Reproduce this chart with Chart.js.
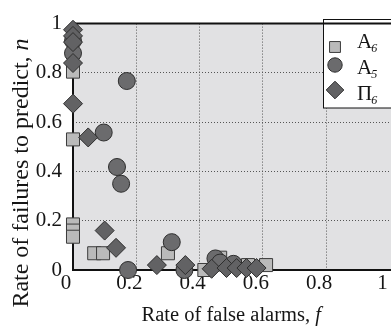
<!DOCTYPE html>
<html><head><meta charset="utf-8">
<script src="https://cdn.jsdelivr.net/npm/chart.js@4.4.1/dist/chart.umd.min.js"></script>
<style>
html,body{margin:0;padding:0;background:#fff;overflow:hidden;width:391px;height:326px}
#wrap{position:relative;width:400px;height:326px}
</style></head>
<body><div id="wrap"><canvas id="c" width="400" height="326"></canvas></div>
<script>
// ---- data ----
const xTickValues = [0, 0.2, 0.4, 0.6, 0.8, 1];
const yTickValues = [0, 0.2, 0.4, 0.6, 0.8, 1];
const xTickLabels = ['0', '0.2', '0.4', '0.6', '0.8', '1'];
const yTickLabels = ['0', '0.2', '0.4', '0.6', '0.8', '1'];
const xTitle = ['Rate of false alarms, ', 'f'];
const yTitle = ['Rate of failures to predict, ', 'n'];
const seriesNames = ['A', 'A', 'Π'];
const seriesSubs = ['6', '5', '6'];

const a6X = [0, 0, 0, 0, 0, 0.067, 0.095, 0.30, 0.415, 0.465, 0.553, 0.61];
const a6Y = [0.805, 0.53, 0.185, 0.16, 0.135, 0.068, 0.068, 0.068, 0.0, 0.05, 0.02, 0.02];

const a5X = [0, 0, 0.17, 0.097, 0.139, 0.152, 0.174, 0.312, 0.352, 0.45, 0.465, 0.507];
const a5Y = [0.93, 0.88, 0.767, 0.558, 0.418, 0.35, 0.0, 0.113, 0.0, 0.047, 0.03, 0.025];

const p6X = [0, 0, 0, 0, 0, 0.048, 0.10, 0.136, 0.265, 0.355, 0.438, 0.485, 0.517, 0.548, 0.58];
const p6Y = [0.975, 0.95, 0.925, 0.84, 0.675, 0.538, 0.16, 0.09, 0.02, 0.02, 0.005, 0.008, 0.008, 0.008, 0.008];

// ---- chart ----
Chart.defaults.font.family = "'Liberation Serif', 'Times New Roman', serif";
Chart.defaults.color = '#151515';

const pts = (xs, ys) => xs.map((x, i) => ({x: x, y: ys[i]}));

const framePlugin = {
  id: 'frame',
  beforeDraw(chart) {
    const a = chart.chartArea, ctx = chart.ctx;
    ctx.save();
    ctx.fillStyle = '#e1e1e3';
    ctx.fillRect(a.left, a.top, a.right - a.left + 10, a.bottom - a.top);
    ctx.restore();
  },
  beforeDatasetsDraw(chart) {
    const a = chart.chartArea, ctx = chart.ctx;
    ctx.save();
    ctx.strokeStyle = '#111';
    ctx.lineWidth = 2;
    ctx.beginPath();
    ctx.moveTo(a.right + 10, a.top);
    ctx.lineTo(a.left, a.top);
    ctx.lineTo(a.left, a.bottom);
    ctx.lineTo(a.right + 10, a.bottom);
    ctx.stroke();
    ctx.restore();
  },
  afterDraw(chart) {
    const a = chart.chartArea, ctx = chart.ctx;
    ctx.save();
    ctx.fillStyle = '#151515';
    // x title
    ctx.textBaseline = 'alphabetic';
    ctx.font = "20.5px 'Liberation Serif'";
    const w1 = ctx.measureText(xTitle[0]).width;
    ctx.font = "italic 20.5px 'Liberation Serif'";
    const w2 = ctx.measureText(xTitle[1]).width;
    let xs = (a.left + a.right) / 2 - (w1 + w2) / 2;
    ctx.font = "20.5px 'Liberation Serif'";
    ctx.fillText(xTitle[0], xs, 321);
    ctx.font = "italic 20.5px 'Liberation Serif'";
    ctx.fillText(xTitle[1], xs + w1, 321);
    // y title
    ctx.save();
    ctx.translate(28, 173);
    ctx.rotate(-Math.PI / 2);
    ctx.font = "24px 'Liberation Serif'";
    const v1 = ctx.measureText(yTitle[0]).width;
    ctx.font = "italic 24px 'Liberation Serif'";
    const v2 = ctx.measureText(yTitle[1]).width;
    const ys = -(v1 + v2) / 2;
    ctx.font = "24px 'Liberation Serif'";
    ctx.fillText(yTitle[0], ys, 0);
    ctx.font = "italic 24px 'Liberation Serif'";
    ctx.fillText(yTitle[1], ys + v1, 0);
    ctx.restore();

    // legend
    const lx = 323.5, ly = 19.5, lw = 90, lh = 88.5;
    ctx.fillStyle = '#fff';
    ctx.fillRect(lx, ly, lw, lh);
    ctx.strokeStyle = '#111';
    ctx.lineWidth = 1;
    ctx.strokeRect(lx, ly, lw, lh);
    ctx.lineWidth = 2;
    ctx.beginPath(); ctx.moveTo(lx, a.top); ctx.lineTo(lx + lw, a.top); ctx.stroke();
    const ds = chart.data.datasets;
    const rowY = [47, 65, 90];
    const legR = [7.7, 7.2, 8.8];
    const baseY = [48, 74, 100];
    ds.forEach((d, i) => {
      ctx.fillStyle = d.backgroundColor;
      ctx.strokeStyle = d.borderColor;
      ctx.lineWidth = 1;
      Chart.helpers.drawPoint(ctx, {pointStyle: d.pointStyle, radius: legR[i], rotation: 0, borderWidth: 1}, 335, rowY[i]);
      ctx.fillStyle = '#151515';
      ctx.font = "21px 'Liberation Serif'";
      ctx.textBaseline = 'alphabetic';
      ctx.fillText(seriesNames[i], 357, baseY[i]);
      const nw = ctx.measureText(seriesNames[i]).width;
      ctx.font = "italic 12px 'Liberation Serif'";
      ctx.fillText(seriesSubs[i], 357 + nw - 1, baseY[i] + 4);
    });
    ctx.restore();
  }
};

const gridColor = ctx => (ctx.tick && (ctx.tick.value === 0 || ctx.tick.value === 1)) ? 'rgba(0,0,0,0)' : '#555555';

new Chart(document.getElementById('c'), {
  type: 'scatter',
  data: {
    datasets: [
      {label: 'A6', data: pts(a6X, a6Y), pointStyle: 'rect', pointRadius: 9.2, pointHoverRadius: 9.2,
       backgroundColor: '#bababa', borderColor: '#3c3c3c', borderWidth: 1, order: 3, clip: false},
      {label: 'A5', data: pts(a5X, a5Y), pointStyle: 'circle', pointRadius: 8.5, pointHoverRadius: 8.5,
       backgroundColor: '#6b6b6d', borderColor: '#2e2e2e', borderWidth: 1, order: 2, clip: false},
      {label: 'П6', data: pts(p6X, p6Y), pointStyle: 'rectRot', pointRadius: 9.5, pointHoverRadius: 9.5,
       backgroundColor: '#626264', borderColor: '#2e2e2e', borderWidth: 1, order: 1, clip: false}
    ]
  },
  options: {
    responsive: false,
    animation: false,
    devicePixelRatio: 1,
    layout: {padding: {left: 0, top: 19.5, right: 9, bottom: 0}},
    plugins: {legend: {display: false}, tooltip: {enabled: false}},
    scales: {
      x: {
        type: 'linear', min: 0, max: 1,
        afterBuildTicks: s => { s.ticks = xTickValues.map(v => ({value: v})); },
        afterFit: s => { s.height = 56; },
        ticks: {callback: (v, i) => xTickLabels[i], font: {size: 21}, padding: 1, labelOffset: -7, maxRotation: 0, autoSkip: false},
        grid: {color: gridColor, lineWidth: 1, drawTicks: false},
        border: {display: false, dash: [1, 2]},
        title: {display: false}
      },
      y: {
        type: 'linear', min: 0, max: 1,
        afterBuildTicks: s => { s.ticks = yTickValues.map(v => ({value: v})); },
        afterFit: s => { s.width = 73; },
        ticks: {callback: (v, i) => yTickLabels[i], font: {size: 21}, padding: 11, autoSkip: false},
        grid: {color: gridColor, lineWidth: 1, drawTicks: false},
        border: {display: false, dash: [1, 2]},
        title: {display: false}
      }
    }
  },
  plugins: [framePlugin]
});
</script>
</body></html>
